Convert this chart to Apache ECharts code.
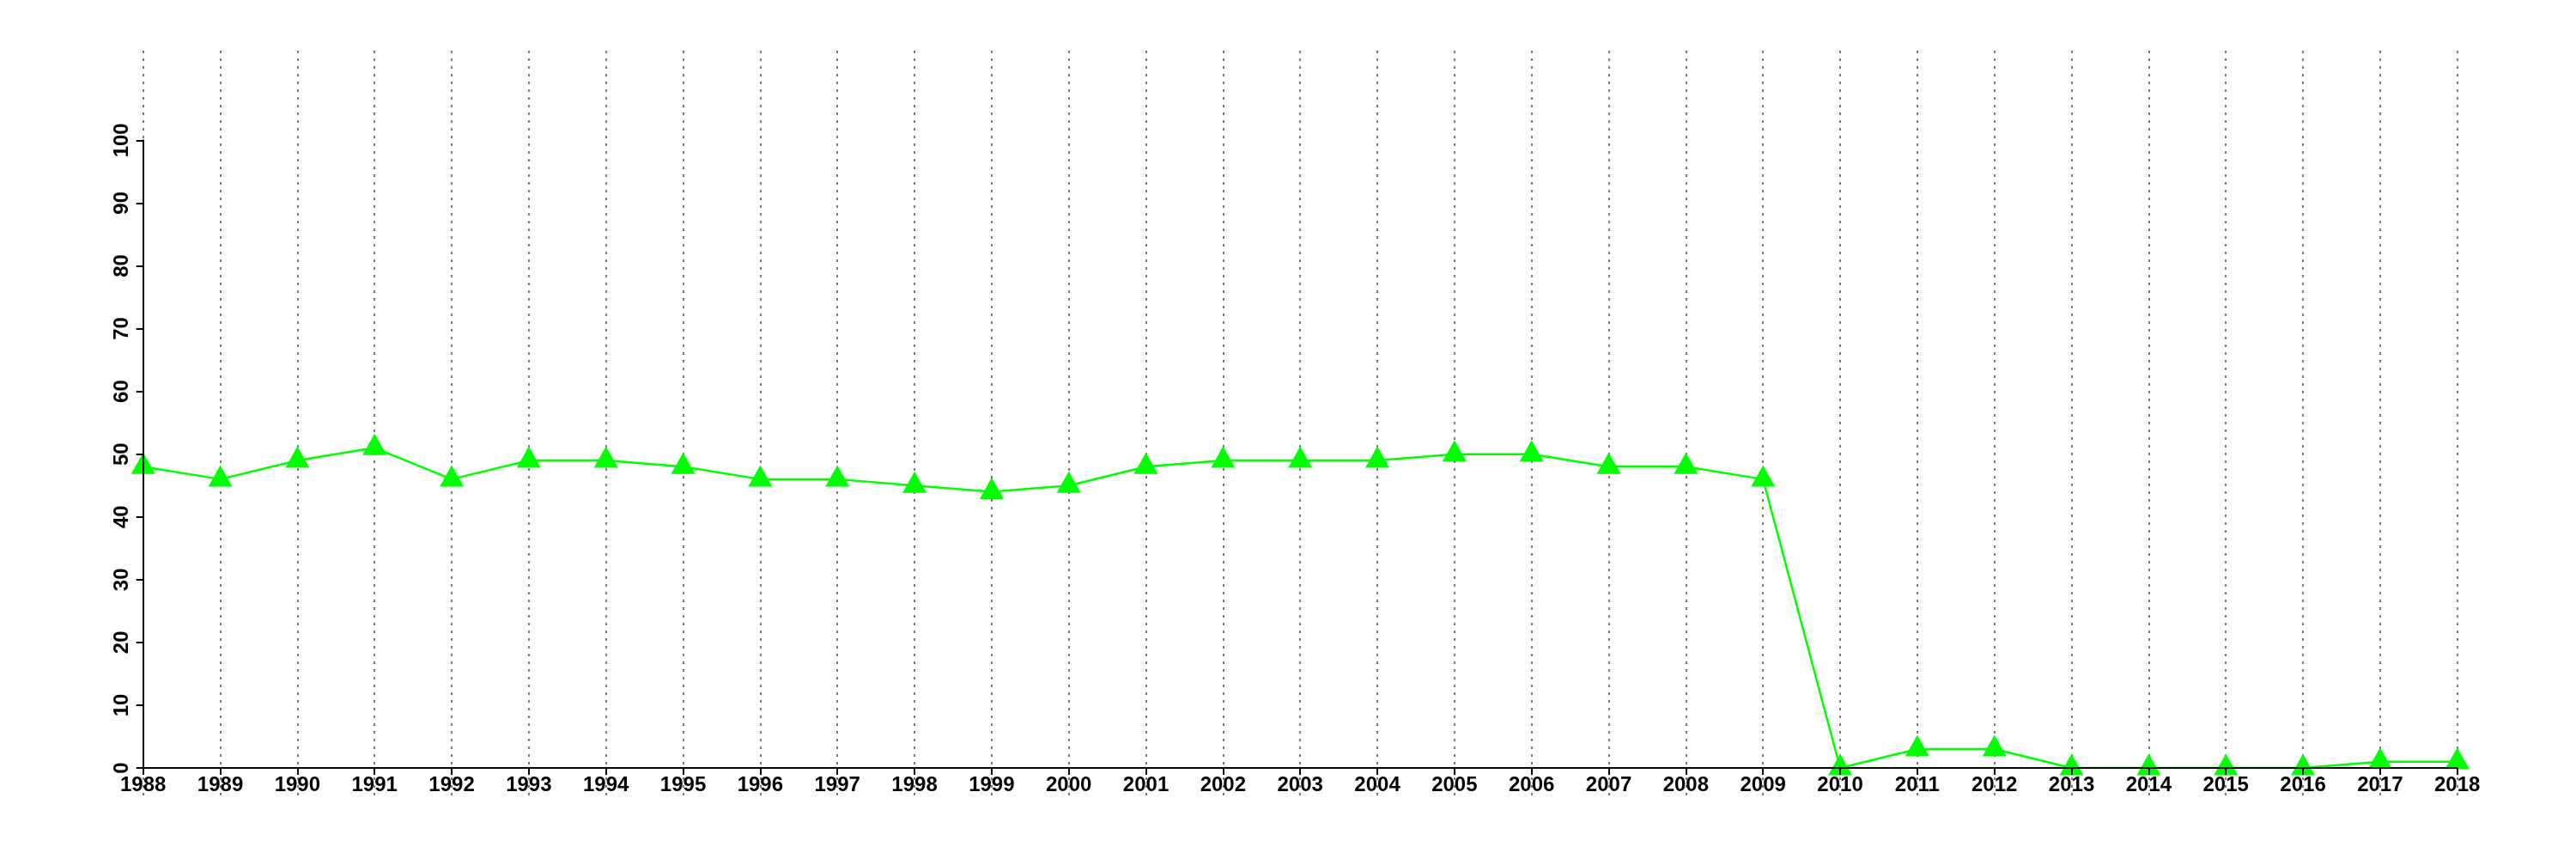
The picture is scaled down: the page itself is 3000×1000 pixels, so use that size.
<!DOCTYPE html>
<html>
<head>
<meta charset="utf-8">
<script src="https://cdn.jsdelivr.net/npm/echarts@6/dist/echarts.min.js"></script>
<style>
html,body{margin:0;padding:0;background:#fff;}
#chart{width:3000px;height:1000px;}
</style>
</head>
<body>
<div id="chart"></div>
<script>
const years = ['1988','1989','1990','1991','1992','1993','1994','1995','1996','1997','1998','1999','2000','2001','2002','2003','2004','2005','2006','2007','2008','2009','2010','2011','2012','2013','2014','2015','2016','2017','2018'];
const values = [48,46,49,51,46,49,49,48,46,46,45,44,45,48,49,49,49,50,50,48,48,46,0,3,3,0,0,0,0,1,1];
const yMin = 0, yMax = 100, yStep = 10;

const font = 'Liberation Sans, Arial, Helvetica, sans-serif';
const chart = echarts.init(document.getElementById('chart'), null, {renderer: 'canvas'});
chart.setOption({
  animation: false,
  backgroundColor: '#ffffff',
  grid: [
    {left: 166.7, right: 138.3, top: 163.3, bottom: 106, containLabel: false},
    {left: 166.7, right: 138.3, top: 59, bottom: 73, containLabel: false}
  ],
  xAxis: [
    {
      gridIndex: 0, type: 'category', data: years, boundaryGap: false, z: 5,
      axisLine: {show: true, lineStyle: {color: '#000', width: 2}},
      axisTick: {show: true, inside: false, length: 8, interval: 0, lineStyle: {color: '#000', width: 2}},
      axisLabel: {show: true, interval: 0, margin: 8, color: '#000', fontFamily: font, fontWeight: 'bold', fontSize: 24},
      splitLine: {show: false}
    },
    {
      gridIndex: 1, type: 'category', data: years, boundaryGap: false, z: 0,
      axisLine: {show: false}, axisTick: {show: false}, axisLabel: {show: false},
      splitLine: {show: true, interval: 0, lineStyle: {color: '#7a7a7a', width: 2, type: [3, 6]}}
    }
  ],
  yAxis: [
    {
      gridIndex: 0, type: 'value', min: yMin, max: yMax, interval: yStep, z: 5,
      axisLine: {show: true, lineStyle: {color: '#000', width: 2}},
      axisTick: {show: true, inside: false, length: 8, lineStyle: {color: '#000', width: 2}},
      axisLabel: {show: true, rotate: 90, margin: 12, color: '#000', fontFamily: font, fontWeight: 'bold', fontSize: 24},
      splitLine: {show: false}
    },
    {
      gridIndex: 1, type: 'value', min: 0, max: 1, show: false
    }
  ],
  series: [
    {
      type: 'line', xAxisIndex: 0, yAxisIndex: 0, data: values, z: 2,
      lineStyle: {color: '#00ff00', width: 2.5},
      itemStyle: {color: '#00ff00', borderWidth: 0},
      symbol: 'triangle', symbolSize: [28, 25], symbolOffset: [0, -4],
      showSymbol: true, emphasis: {disabled: true}, silent: true
    }
  ]
});
</script>
</body>
</html>
